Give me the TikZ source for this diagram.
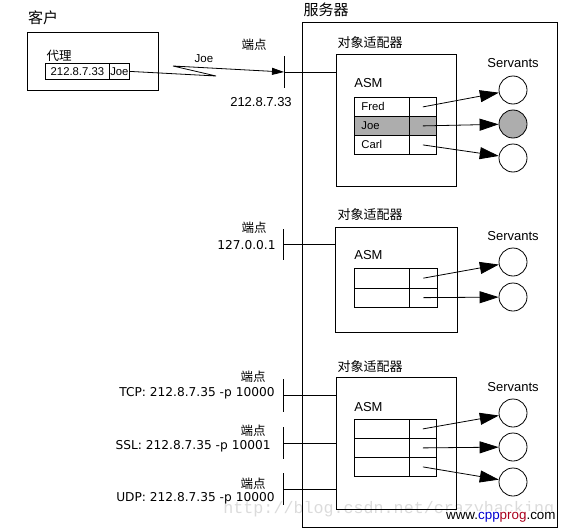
\documentclass[tikz,border=0pt]{standalone}
\usepackage{fontspec}
\setmainfont{Liberation Sans}
\newfontfamily\cjk{Noto Sans CJK SC}
\newfontfamily\dvs{DejaVu Sans}
\newfontfamily\wmono{Liberation Mono}
\usetikzlibrary{arrows.meta}
\definecolor{cppblue}{RGB}{0,0,210}
\definecolor{cppred}{RGB}{170,0,30}
\begin{document}
\begin{tikzpicture}[x=1pt,y=-1pt,line width=0.8pt,
  cn/.style={font=\cjk\fontsize{12.5}{13}\selectfont,inner sep=0},
  cnbig/.style={font=\cjk\fontsize{15}{16}\selectfont,inner sep=0},
  lbl/.style={font=\fontsize{13}{14}\selectfont,inner sep=0},
  ep/.style={font=\dvs\fontsize{12.2}{13}\selectfont,inner sep=0,anchor=east},
  frame/.style={draw,rectangle,inner sep=0,anchor=north west},
  cell/.style={draw,rectangle,inner sep=0,anchor=north west},
  ctext/.style={font=\fontsize{11.3}{12}\selectfont,inner sep=0,anchor=west},
  servant/.style={draw,circle,minimum size=28pt,inner sep=0},
  arr/.style={-{Triangle[length=19pt,width=12pt]}},
  jarr/.style={-{Triangle[length=12pt,width=7pt]}}]
\useasboundingbox (0,0) rectangle (565,530);
% watermark
\node[font=\wmono\fontsize{16.7}{17}\selectfont,text=black!14,inner sep=0,anchor=west] (wm) at (223,509) {http://blog.csdn.net/crazyhacking};
% client
\node[cnbig] (clientlbl) at (43,18) {客户};
\node[frame,minimum width=131pt,minimum height=58pt] (client) at (27,32) {};
\node[cn] (proxylbl) at (59,56) {代理};
\node[cell,minimum width=64pt,minimum height=16pt,font=\fontsize{11.3}{12}\selectfont] (pip) at (45,63) {212.8.7.33};
\node[cell,minimum width=20pt,minimum height=16pt,font=\fontsize{11.3}{12}\selectfont] (pjoe) at (109,63) {Joe};
% server
\node[cnbig] (serverlbl) at (326,10) {服务器};
\node[frame,minimum width=255pt,minimum height=505pt] (server) at (302,22) {};
% endpoint 1
\coordinate (e1t) at (284,56); \coordinate (e1b) at (284,88); \coordinate (e1) at (284,72);
\draw (e1t) -- (e1b);
\node[cn] (e1lbl) at (254,45) {端点};
\node[lbl] (e1addr) at (261,102) {212.8.7.33};
\coordinate (j1) at (216,76); \coordinate (j2) at (173,66);
\draw[jarr] (pjoe.east) -- (j1) -- (j2) -- (e1);
\node[lbl,font=\fontsize{11.5}{12}\selectfont] (joelbl) at (204,59) {Joe};
% adapter 1
\node[cn,font=\cjk\fontsize{13}{14}\selectfont] (a1lbl) at (370,43) {对象适配器};
\node[frame,minimum width=120pt,minimum height=132pt] (ad1) at (336,54) {};
\draw (e1) -- (e1 -| ad1.west);
\node[lbl,anchor=west] (asm1) at (354,83) {ASM};
\node[cell,minimum width=55pt,minimum height=19pt] (a1r1l) at (354,97) {};
\node[cell,minimum width=27pt,minimum height=19pt] (a1r1r) at (409,97) {};
\node[cell,minimum width=55pt,minimum height=19pt,fill=black!32] (a1r2l) at (354,116) {};
\node[cell,minimum width=27pt,minimum height=19pt,fill=black!32] (a1r2r) at (409,116) {};
\node[cell,minimum width=55pt,minimum height=19pt] (a1r3l) at (354,135) {};
\node[cell,minimum width=27pt,minimum height=19pt] (a1r3r) at (409,135) {};
\node[ctext] (fred) at (361,106.5) {Fred};
\node[ctext] (joe) at (361,125.5) {Joe};
\node[ctext] (carl) at (361,144.5) {Carl};
\node[lbl] (sv1) at (513,63) {Servants};
\node[servant] (s11) at (513,90) {};
\node[servant,fill=black!32] (s12) at (513,124) {};
\node[servant] (s13) at (513,158) {};
\draw[arr] (a1r1r.center) ++(0,0) -- (s11);
\draw[arr] (a1r2r.center) -- (s12);
\draw[arr] (a1r3r.center) -- (s13);
% endpoint 2
\coordinate (e2t) at (283,229); \coordinate (e2b) at (283,260); \coordinate (e2) at (283,244);
\draw (e2t) -- (e2b);
\node[cn] (e2lbl) at (254,228) {端点};
\node[ep] (e2addr) at (276,245) {127.0.0.1};
% adapter 2
\node[cn,font=\cjk\fontsize{13}{14}\selectfont] (a2lbl) at (370,215) {对象适配器};
\node[frame,minimum width=122pt,minimum height=105pt] (ad2) at (335,227) {};
\draw (e2) -- (e2 -| ad2.west);
\node[lbl,anchor=west] (asm2) at (354,255) {ASM};
\node[cell,minimum width=55pt,minimum height=19.5pt] (a2r1l) at (354,268) {};
\node[cell,minimum width=28pt,minimum height=19.5pt] (a2r1r) at (409,268) {};
\node[cell,minimum width=55pt,minimum height=19.5pt] (a2r2l) at (354,287.5) {};
\node[cell,minimum width=28pt,minimum height=19.5pt] (a2r2r) at (409,287.5) {};
\node[lbl] (sv2) at (513,236) {Servants};
\node[servant] (s21) at (513,262) {};
\node[servant] (s22) at (513,297) {};
\draw[arr] (a2r1r.center) -- (s21);
\draw[arr] (a2r2r.center) -- (s22);
% endpoints 3
\coordinate (e3t) at (283,379); \coordinate (e3b) at (283,412); \coordinate (e3) at (283,395);
\coordinate (e4t) at (283,427); \coordinate (e4b) at (283,459); \coordinate (e4) at (283,443);
\coordinate (e5t) at (283,473); \coordinate (e5b) at (283,505); \coordinate (e5) at (283,489);
\draw (e3t) -- (e3b);
\draw (e4t) -- (e4b);
\draw (e5t) -- (e5b);
\node[cn] (e3lbl) at (253,377) {端点};
\node[cn] (e4lbl) at (253,431) {端点};
\node[cn] (e5lbl) at (253,484) {端点};
\node[ep] (e3addr) at (275,393) {TCP: 212.8.7.35 -p 10000};
\node[ep] (e4addr) at (271,446) {SSL: 212.8.7.35 -p 10001};
\node[ep] (e5addr) at (275,498) {UDP: 212.8.7.35 -p 10000};
% adapter 3
\node[cn,font=\cjk\fontsize{13}{14}\selectfont] (a3lbl) at (370,367) {对象适配器};
\node[frame,minimum width=120pt,minimum height=132pt] (ad3) at (336,377) {};
\draw (e3) -- (e3 -| ad3.west);
\draw (e4) -- (e4 -| ad3.west);
\draw (e5) -- (e5 -| ad3.west);
\node[lbl,anchor=west] (asm3) at (354,407) {ASM};
\node[cell,minimum width=55pt,minimum height=19pt] (a3r1l) at (354,419) {};
\node[cell,minimum width=27pt,minimum height=19pt] (a3r1r) at (409,419) {};
\node[cell,minimum width=55pt,minimum height=19pt] (a3r2l) at (354,438) {};
\node[cell,minimum width=27pt,minimum height=19pt] (a3r2r) at (409,438) {};
\node[cell,minimum width=55pt,minimum height=19pt] (a3r3l) at (354,457) {};
\node[cell,minimum width=27pt,minimum height=19pt] (a3r3r) at (409,457) {};
\node[lbl] (sv3) at (513,387) {Servants};
\node[servant] (s31) at (513,413) {};
\node[servant] (s32) at (513,447) {};
\node[servant] (s33) at (513,482) {};
\draw[arr] (a3r1r.center) -- (s31);
\draw[arr] (a3r2r.center) -- (s32);
\draw[arr] (a3r3r.center) -- (s33);
% logo
\node[fill=white,inner sep=1pt,anchor=east,font=\fontsize{13.4}{14}\selectfont] (logo) at (557,517) {www.\textcolor{cppblue}{cpp}\textcolor{cppred}{prog}.com};
\end{tikzpicture}
\end{document}
